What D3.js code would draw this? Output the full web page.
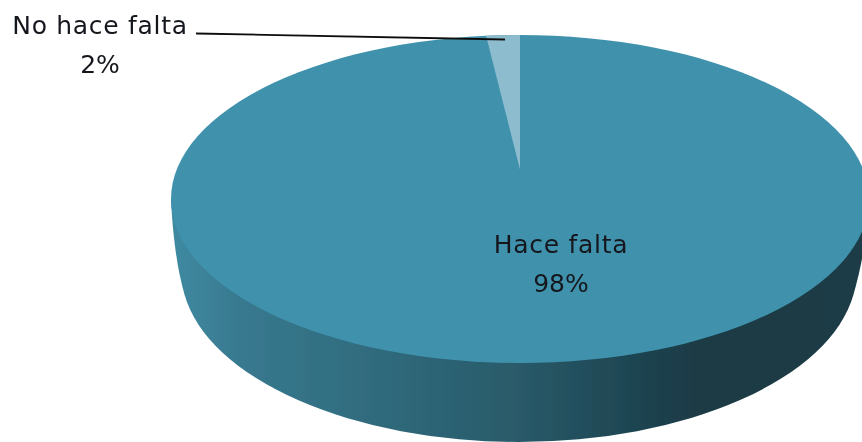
<!DOCTYPE html>
<html><head><meta charset="utf-8">
<script src="https://cdn.jsdelivr.net/npm/d3@7"></script>
<style>html,body{margin:0;background:#fff}svg{display:block}text{font-family:"DejaVu Sans",sans-serif;fill:#14181f;font-size:25px}.cat{letter-spacing:.7px}</style>
</head><body><svg id="c" width="862" height="442"></svg>
<script>
const categories=["Hace falta","No hace falta"];
const seriesValues=[98.45,1.55];
const sliceColors=["#3f92ac","#8dbccf"];
const wallStops=[[0,"#3f8aa2"],[0.1,"#38798f"],[0.3,"#2f6a7c"],[0.5,"#295a69"],[0.66,"#1e4552"],[0.76,"#1a3a44"],[1,"#1c3c46"]];

const svg=d3.select("#c");
const defs=svg.append("defs");
defs.append("filter").attr("id","soft").append("feGaussianBlur").attr("stdDeviation",0.45);
const grad=defs.append("linearGradient").attr("id","wall").attr("gradientUnits","userSpaceOnUse")
  .attr("x1",171).attr("x2",869).attr("y1",0).attr("y2",0);
grad.selectAll("stop").data(wallStops).join("stop").attr("offset",d=>d[0]).attr("stop-color",d=>d[1]);

// Unit-circle to pixel scales of the tilted pie top
const x=d3.scaleLinear().domain([-1,1]).range([171,869]);
const y=d3.scaleLinear().domain([-1,1]).range([35,363]);
const rx=(x(1)-x(-1))/2, ry=(y(1)-y(-1))/2;
const apexY=y(-0.18);

// Lower rim of the wall is a smaller ellipse (perspective)
const xb=d3.scaleLinear().domain([-1,1]).range([181,857]);
const yb=d3.scaleLinear().domain([-1,1]).range([98,442]);
const rxb=(xb(1)-xb(-1))/2, ryb=(yb(1)-yb(-1))/2;
const rimAngle=0.145; // rim arc starts a little below the lower ellipse's widest point
const rimX=Math.cos(rimAngle), rimY=Math.sin(rimAngle);

const arcs=d3.pie().sort(null).startAngle(0).endAngle(2*Math.PI)(seriesValues);
const pt=a=>[x(Math.sin(a)),y(-Math.cos(a))];

const g=svg.append("g").attr("filter","url(#soft)");

// side wall
const wallD=[
  `M${x(-1)},${y(0)}`,
  `C${x(-1)+2},${y(0)+41} ${xb(-rimX)-7},${yb(rimY)-25} ${xb(-rimX)},${yb(rimY)}`,
  `A${rxb},${ryb} 0 0 0 ${xb(rimX)},${yb(rimY)}`,
  `C${xb(rimX)+7},${yb(rimY)-25} ${x(1)-2},${y(0)+41} ${x(1)},${y(0)}`,
  "Z"].join(" ");
g.append("path").attr("d",wallD).attr("fill","url(#wall)");

// top ellipse (main slice)
g.append("ellipse").attr("cx",x(0)).attr("cy",y(0)).attr("rx",rx).attr("ry",ry).attr("fill",sliceColors[0]);

// small slice
const s=arcs[1];
const [x0,y0]=pt(s.startAngle),[x1,y1]=pt(s.endAngle);
g.append("path").attr("d",`M${x(0)},${apexY} L${x0},${y0} A${rx},${ry} 0 0 1 ${x1},${y1} Z`).attr("fill",sliceColors[1]);

// leader
g.append("line").attr("x1",196).attr("y1",33.5).attr("x2",505).attr("y2",39.5).attr("stroke","#111").attr("stroke-width",1.8);

// labels
const labels=[{cx:561,y1:253,y2:292,i:0},{cx:100,y1:34,y2:73,i:1}];
labels.forEach(l=>{
  g.append("text").attr("class","cat").attr("x",l.cx).attr("y",l.y1).attr("text-anchor","middle").text(categories[l.i]);
  g.append("text").attr("x",l.cx).attr("y",l.y2).attr("text-anchor","middle").text(d3.format(".0f")(seriesValues[l.i])+"%");
});
</script></body></html>
